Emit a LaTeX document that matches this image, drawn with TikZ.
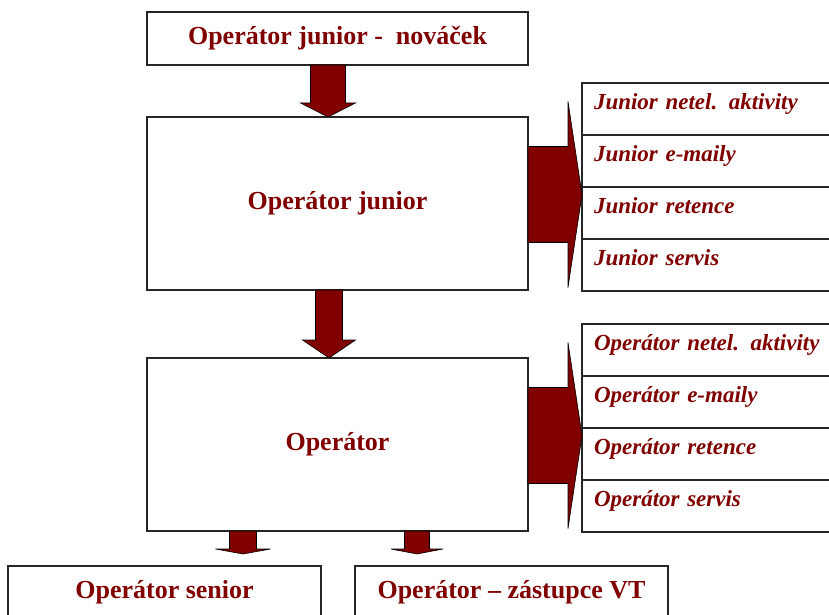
\documentclass[tikz,border=0pt]{standalone}
\usepackage{fontspec}
\setmainfont{Liberation Serif}
\usetikzlibrary{positioning}
\usetikzlibrary{calc}
\definecolor{tmavocervena}{RGB}{128,0,0}
\tikzset{box/.style = {draw=black!85, line width=1.2pt, fill=white, inner sep=0, outer sep=0, text=tmavocervena, font=\fontsize{26}{30}\selectfont\bfseries}}
\tikzset{item/.style = {box, minimum height=52, text width=236pt, inner xsep=12pt, align=left, text height=10pt, text depth=9pt, font=\fontsize{23}{27}\selectfont\bfseries\itshape}}
\tikzset{blk/.style = {fill=tmavocervena, draw=black, line width=0.6pt}}
\newcommand{\blockdown}[5]{\filldraw[blk] ($(#1)+(-#3,0)$) -- ($(#2)+(-#3,-#5)$) -- ($(#2)+(-#4,-#5)$) -- (#2) -- ($(#2)+(#4,-#5)$) -- ($(#2)+(#3,-#5)$) -- ($(#1)+(#3,0)$) -- cycle;}
\newcommand{\blockright}[5]{\filldraw[blk] ($(#1)+(0,-#3)$) -- ($(#2)+(-#5,-#3)$) -- ($(#2)+(-#5,-#4)$) -- (#2) -- ($(#2)+(-#5,#4)$) -- ($(#2)+(-#5,#3)$) -- ($(#1)+(0,#3)$) -- cycle;}

\begin{document}
\begin{tikzpicture}[x=1pt, y=-1pt]
    \clip (0,0) rectangle (829,615);
    \fill[white] (0,0) rectangle (829,615);

    \node [box, minimum width=381, minimum height=53] (novacek) at (337.5, 38.5) {Operátor junior - ~nováček};
    \node [box, minimum width=381, minimum height=173] (junior) at (337.5, 203.5) {Operátor junior};
    \node [box, minimum width=381, minimum height=173] (operator) at (337.5, 444.5) {Operátor};
    \node [box, minimum width=313, minimum height=52] (senior) at (164.5, 592) {Operátor senior};
    \node [box, minimum width=313, minimum height=52] (zastupce) at (511.5, 592) {Operátor – zástupce VT};

    \node [item, anchor=north west] (j1) at (582, 83) {Junior netel. aktivity};
    \node [item, below=0pt of j1] (j2) {Junior e-maily};
    \node [item, below=0pt of j2] (j3) {Junior retence};
    \node [item, below=0pt of j3] (j4) {Junior servis};

    \node [item, anchor=north west] (o1) at (582, 324) {Operátor netel. aktivity};
    \node [item, below=0pt of o1] (o2) {Operátor e-maily};
    \node [item, below=0pt of o2] (o3) {Operátor retence};
    \node [item, below=0pt of o3] (o4) {Operátor servis};

    \coordinate (a1) at ($(novacek.south)+(-9.5,0)$);
    \coordinate (b1) at ($(junior.north)+(-9.5,0)$);
    \coordinate (a2) at ($(junior.south)+(-8.5,0)$);
    \coordinate (b2) at ($(operator.north)+(-8.5,0)$);
    \coordinate (a3) at ($(operator.south)+(-94.5,0)$);
    \coordinate (b3) at ($(senior.north -| a3)+(0,-12)$);
    \coordinate (a4) at ($(operator.south)+(79.5,0)$);
    \coordinate (b4) at ($(zastupce.north -| a4)+(0,-12)$);
    \coordinate (c1) at ($(junior.east)+(0,-9)$);
    \coordinate (d1) at (c1 -| j3.west);
    \coordinate (c2) at ($(operator.east)+(0,-9)$);
    \coordinate (d2) at (c2 -| o3.west);

    \blockdown{a1}{b1}{17.5}{27.5}{14}
    \blockdown{a2}{b2}{13.5}{26.5}{18}
    \blockdown{a3}{b3}{13.5}{27.5}{5}
    \blockdown{a4}{b4}{12.5}{26}{5}
    \blockright{c1}{d1}{48}{93}{14}
    \blockright{c2}{d2}{48}{93}{14}
\end{tikzpicture}
\end{document}
